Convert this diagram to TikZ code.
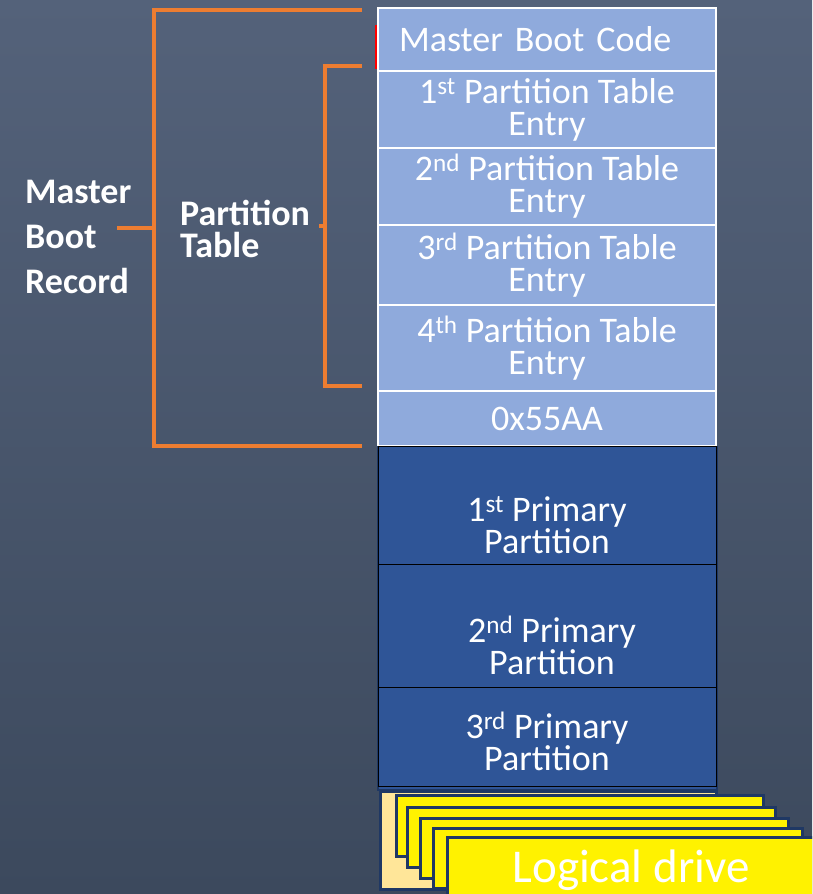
\documentclass[tikz,border=0pt]{standalone}
\usepackage{fontspec}
\setmainfont{Carlito}
\definecolor{bgtop}{RGB}{84,98,122}
\definecolor{bgbot}{RGB}{60,73,93}
\definecolor{lblue}{RGB}{143,170,220}
\definecolor{dblue}{RGB}{47,85,151}
\definecolor{navy}{RGB}{31,56,100}
\definecolor{orng}{RGB}{237,125,49}
\definecolor{lorange}{RGB}{255,230,153}
\newcommand{\tabfont}{\fontsize{36}{32}\selectfont}
\newcommand{\lblfont}{\fontsize{36}{45}\selectfont\bfseries}
\newcommand{\ptfont}{\fontsize{36}{32}\selectfont\bfseries}
\begin{document}
\begin{tikzpicture}[x=1pt,y=-1pt,
  lrow/.style={draw=white, line width=1.5pt, fill=lblue, minimum width=338pt, inner sep=0pt, text=white, font=\tabfont, align=center},
  drow/.style={draw=black, line width=1pt, fill=dblue, minimum width=338pt, inner sep=0pt},
  dtext/.style={text=white, font=\tabfont, align=center, inner sep=0pt},
  bracket/.style={draw=orng, line width=4.5pt},
  ldrive/.style={draw=navy, line width=3pt, fill=yellow},
  lbl/.style={text=white, font=\lblfont, align=left, inner sep=0pt, anchor=north west}]
\useasboundingbox (0,0) rectangle (812,894);
\begin{scope}
\clip (0,0) rectangle (812,894);
\shade[top color=bgtop, bottom color=bgbot] (0,0) rectangle (812,894);

% light rows
\node[lrow, minimum height=63pt, text width=296pt, align=left] (mbc) at (547,39.5) {Master Boot Code};
\node[lrow, minimum height=77pt] (pt1) at (547,109.5) {1\textsuperscript{st} Partition Table\\Entry};
\node[lrow, minimum height=77pt] (pt2) at (547,186.5) {2\textsuperscript{nd} Partition Table\\Entry};
\node[lrow, minimum height=80pt] (pt3) at (547,265) {3\textsuperscript{rd} Partition Table\\Entry};
\node[lrow, minimum height=86pt] (pt4) at (547,348) {4\textsuperscript{th} Partition Table\\Entry};
\node[lrow, minimum height=55pt] (sig) at (547,418.5) {0x55AA};

% dark rows
\draw[draw=navy, line width=2pt, fill=dblue] (378,447) rectangle (717,790);
\node[drow, minimum height=118pt] (pp1) at (547.5,505.5) {};
\node[drow, minimum height=123pt] (pp2) at (547.5,626) {};
\node[drow, minimum height=99pt] (pp3) at (547.5,737) {};
\node[dtext] (t1) at (547,525.5) {1\textsuperscript{st} Primary\\Partition};
\node[dtext] (t2) at (552,645.5) {2\textsuperscript{nd} Primary\\Partition};
\node[dtext] (t3) at (547,741.5) {3\textsuperscript{rd} Primary\\Partition};

% logical drives
\draw[draw=navy, line width=3pt, fill=lorange] (380,791) rectangle (716,889);
\draw[ldrive] (396,795) rectangle (763,856);
\draw[ldrive] (407,807) rectangle (775,867);
\draw[ldrive] (420,818) rectangle (788,878);
\draw[ldrive] (433,828) rectangle (802,888);
\draw[ldrive] (447,837) rectangle (830,910);
\node[text=white, font=\fontsize{47}{56}\selectfont, anchor=base, inner sep=0pt] (ld) at (631,882) {Logical drive};

% brackets
\draw[bracket] (362,10) -- (154,10) -- (154,446) -- (362,446);
\draw[bracket] (117,228) -- (154,228);
\draw[bracket] (362,66) -- (325,66) -- (325,386) -- (362,386);
\draw[bracket] (319,226) -- (325,226);
\draw[red, line width=2pt] (376,25) -- (376,69);

% labels
\node[lbl] (mbr) at (25,180) {Master\\Boot\\Record};
\node[lbl, font=\ptfont] (ptab) at (180,200) {Partition\\Table};
\end{scope}
\end{tikzpicture}
\end{document}
